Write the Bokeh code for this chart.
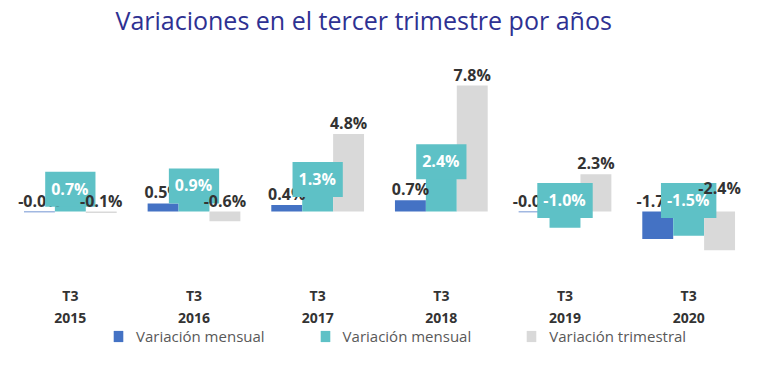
from bokeh.plotting import figure
from bokeh.models import ColumnDataSource, Range1d, FactorRange, Legend, LegendItem, Label
from bokeh.transform import dodge
from bokeh.core.properties import value
from bokeh.embed import file_html
from bokeh.resources import INLINE

# ---- data ----
years = ["2015", "2016", "2017", "2018", "2019", "2020"]
quarter = "T3"
mensual_a = [-0.04, 0.5, 0.4, 0.7, -0.04, -1.7]
mensual_b = [0.7, 0.9, 1.3, 2.4, -1.0, -1.5]
trimestral = [-0.1, -0.6, 4.8, 7.8, 2.3, -2.4]
series_names = ["Variación mensual", "Variación mensual", "Variación trimestral"]
title_text = "Variaciones en el tercer trimestre por años"

colors = ["#4472C4", "#5EC1C6", "#D9D9D9"]
offsets = [-0.25, 0.0, 0.25]
label_nudge = {2: {5: -13}}  # screen-pixel nudge for one crowded label

W, H = 752, 369
PX_PER_UNIT = 16.15
ZERO_Y = 211  # zero line, px from top of figure

p = figure(x_range=FactorRange(*years),
           y_range=Range1d(-(H - ZERO_Y) / PX_PER_UNIT, ZERO_Y / PX_PER_UNIT),
           width=W, height=H,
           output_backend="svg", toolbar_location=None,
           min_border_left=8, min_border_right=2, min_border_top=0, min_border_bottom=0,
           outline_line_color=None, background_fill_color="white")

p.xgrid.visible = False
p.ygrid.visible = False
p.xaxis.visible = False
p.yaxis.visible = False

all_series = [mensual_a, mensual_b, trimestral]
renderers = []
for i, vals in enumerate(all_series):
    src = ColumnDataSource(dict(cat=years, v=vals))
    r = p.vbar(x=dodge("cat", offsets[i], range=p.x_range), top="v", bottom=0,
               width=0.25, source=src, fill_color=colors[i], line_color=None)
    renderers.append(r)

for i, vals in enumerate(all_series):
    ly = [max(v, 0) for v in vals]
    yo = [-11 + label_nudge.get(i, {}).get(k, 0) for k in range(len(vals))]
    src = ColumnDataSource(dict(cat=years, y=ly, t=[f"{v:.1f}%" for v in vals], yo=yo))
    kw = dict(x=dodge("cat", offsets[i], range=p.x_range), y="y", text="t", y_offset="yo",
              source=src, text_align="center", text_baseline="middle",
              text_font=value("Open Sans"), text_font_style="bold", text_font_size="16px")
    if i == 1:
        p.text(text_color="white", background_fill_color=colors[1],
               padding=[6, 7, 6, 7], **kw)
    else:
        p.text(text_color="#333333", **kw)

# category labels (two lines) under the bars
cat_src = ColumnDataSource(dict(cat=years, y=[0] * len(years),
                                t=[f"{quarter}\n{y}" for y in years]))
p.text(x="cat", y="y", text="t", source=cat_src, y_offset=74,
       text_align="center", text_baseline="top",
       text_font=value("Open Sans"), text_font_style="bold", text_font_size="14px",
       text_color="#333333", text_line_height=1.2)

p.add_layout(Label(x=115 - 8, y=H - 19, x_units="screen", y_units="screen", text=title_text,
                   text_font="Open Sans", text_font_size="25px", text_color="#2e3192",
                   text_baseline="middle", text_align="left"))

legend = Legend(items=[LegendItem(label=series_names[i], renderers=[renderers[i]]) for i in range(3)],
                orientation="horizontal", location=(104, 23),
                glyph_width=12, glyph_height=14, label_standoff=12, spacing=54,
                label_text_font="Open Sans", label_text_font_size="15px",
                label_text_color="#595959", border_line_color=None,
                background_fill_alpha=0, margin=0, padding=0)
p.add_layout(legend, "center")

open("out.html", "w").write(file_html(p, INLINE))
